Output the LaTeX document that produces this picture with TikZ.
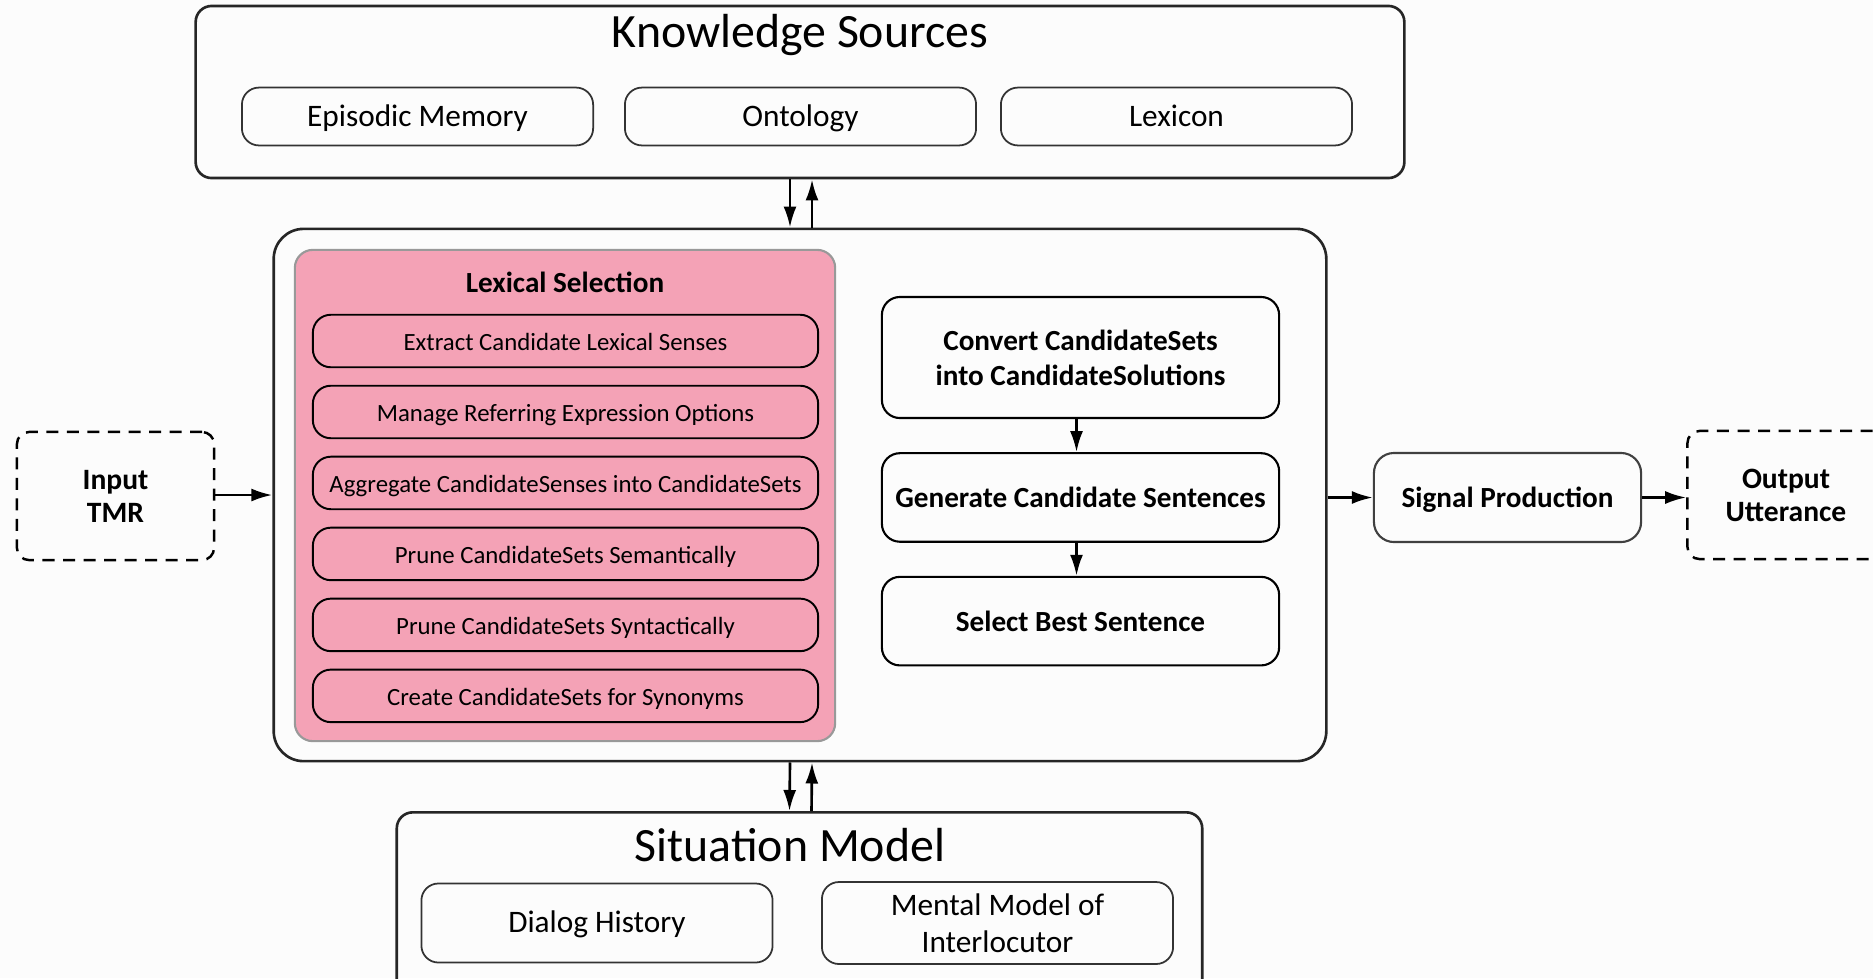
\documentclass[tikz,border=0pt]{standalone}
\usepackage{fontspec}
\setmainfont{Carlito}
\usetikzlibrary{arrows.meta,positioning}
\definecolor{lexpink}{RGB}{244,162,182}
\definecolor{pagebg}{RGB}{252,252,252}
\tikzset{
  frame/.style   ={rectangle, rounded corners=0.16cm, draw=black!85, line width=0.75pt},
  headline/.style={font=\fontsize{13.6}{15}\selectfont},
  srcitem/.style ={rectangle, rounded corners=0.17cm, draw=black!80, line width=0.5pt,
                   align=center, minimum width=3.51cm, minimum height=0.57cm,
                   text height=1.6ex, text depth=0.45ex,
                   font=\fontsize{8.9}{10.4}\selectfont},
  lexframe/.style={rectangle, rounded corners=0.18cm, draw=black!40, fill=lexpink, line width=0.6pt},
  lexstep/.style ={rectangle, rounded corners=0.18cm, draw=black, fill=lexpink, line width=0.55pt,
                   minimum width=5.05cm, minimum height=0.525cm, inner sep=1pt,
                   text height=1.6ex, text depth=0.45ex,
                   font=\fontsize{7.05}{8}\selectfont},
  genstep/.style ={rectangle, rounded corners=0.18cm, draw=black, line width=0.6pt, align=center,
                   minimum width=3.97cm, minimum height=0.885cm,
                   font=\bfseries\fontsize{8.3}{10}\selectfont},
  ioterm/.style  ={rectangle, rounded corners=0.12cm, draw=black, line width=0.7pt,
                   dash pattern=on 0.12cm off 0.085cm, align=center,
                   minimum width=1.97cm, minimum height=1.28cm,
                   font=\bfseries\fontsize{8.4}{9.4}\selectfont},
  flow/.style    ={-{Latex[length=0.21cm, width=0.13cm]}, line width=0.75pt},
}

\begin{document}
\begin{tikzpicture}[x=0.01cm, y=-0.01cm, node distance=0.165cm]
  \useasboundingbox (0,0) rectangle (1873,978);
  \clip (0,0) rectangle (1873,978);
  \fill[pagebg] (0,0) rectangle (1873,978);

  % knowledge sources
  \node[frame, minimum width=12.08cm, minimum height=1.72cm] (ks) at (800,92) {};
  \node[headline] (kstitle) at (800,35) {Knowledge Sources};
  \node[srcitem] (onto) at (800.5,116.5) {Ontology};
  \node[srcitem, left=0.3cm of onto] (epi) {Episodic Memory};
  \node[srcitem, right=0.23cm of onto] (lexicon) {Lexicon};

  % generation block
  \node[frame, rounded corners=0.3cm, minimum width=10.52cm, minimum height=5.32cm] (gen) at (800,495) {};
  \node[lexframe, minimum width=5.4cm, minimum height=4.91cm] (lexsel) at (565,495.5) {};
  \node[font=\bfseries\fontsize{8.3}{10}\selectfont] (lextitle) at (565,282) {Lexical Selection};
  \node[lexstep] (extract) at (565.5,341) {Extract Candidate Lexical Senses};
  \node[lexstep, below=of extract] (refexp) {Manage Referring Expression Options};
  \node[lexstep, below=of refexp]  (aggr)   {Aggregate CandidateSenses into CandidateSets};
  \node[lexstep, below=of aggr]    (semprune) {Prune CandidateSets Semantically};
  \node[lexstep, below=of semprune] (synprune) {Prune CandidateSets Syntactically};
  \node[lexstep, below=of synprune] (synonyms) {Create CandidateSets for Synonyms};

  \node[genstep, minimum height=1.21cm] (convert) at (1080.5,357.5) {Convert CandidateSets\\into CandidateSolutions};
  \node[genstep, below=0.33cm of convert] (cands) {Generate Candidate Sentences};
  \node[genstep, below=0.33cm of cands]   (best)  {Select Best Sentence};
  \draw[flow] ([xshift=-0.04cm]convert.south) -- ([xshift=-0.04cm]cands.north);
  \draw[flow] ([xshift=-0.04cm]cands.south) -- ([xshift=-0.04cm]best.north);

  % input / output
  \node[ioterm] (tmr) at (115.5,496) {Input\\TMR};
  \node[genstep, rounded corners=0.2cm, draw=black!75, minimum width=2.67cm, minimum height=0.89cm,
        text height=1.6ex, text depth=0.45ex] (signal) at (1507.5,497.5) {Signal Production};
  \node[ioterm] (utter) at (1786,495) {Output\\Utterance};
  \draw[flow] (tmr.east |- gen.west) -- (gen.west);
  \draw[flow] (gen.east |- signal.west) -- (signal.west);
  \draw[flow] (signal.east) -- (utter.west |- signal.east);

  % situation model
  \node[frame, anchor=north, minimum width=8.05cm, minimum height=2.2cm] (sm) at (799.5,811) {};
  \node[headline] (smtitle) at (790,845) {Situation Model};
  \node[srcitem, minimum height=0.79cm] (dialog) at (597,923) {Dialog History};
  \node[srcitem, minimum height=0.79cm, text height=, text depth=] (mental) at (997.5,923) {Mental Model of\\Interlocutor};

  % exchange with knowledge and situation
  \draw[flow] ([xshift=-0.1cm]ks.south) -- ([xshift=-0.1cm]gen.north);
  \draw[flow] ([xshift=0.12cm]gen.north) -- ([xshift=0.12cm]ks.south);
  \draw[flow] ([xshift=-0.1cm]gen.south) -- ([xshift=-0.1cm]sm.north);
  \draw[flow] ([xshift=0.12cm]sm.north) -- ([xshift=0.12cm]gen.south);
\end{tikzpicture}
\end{document}
